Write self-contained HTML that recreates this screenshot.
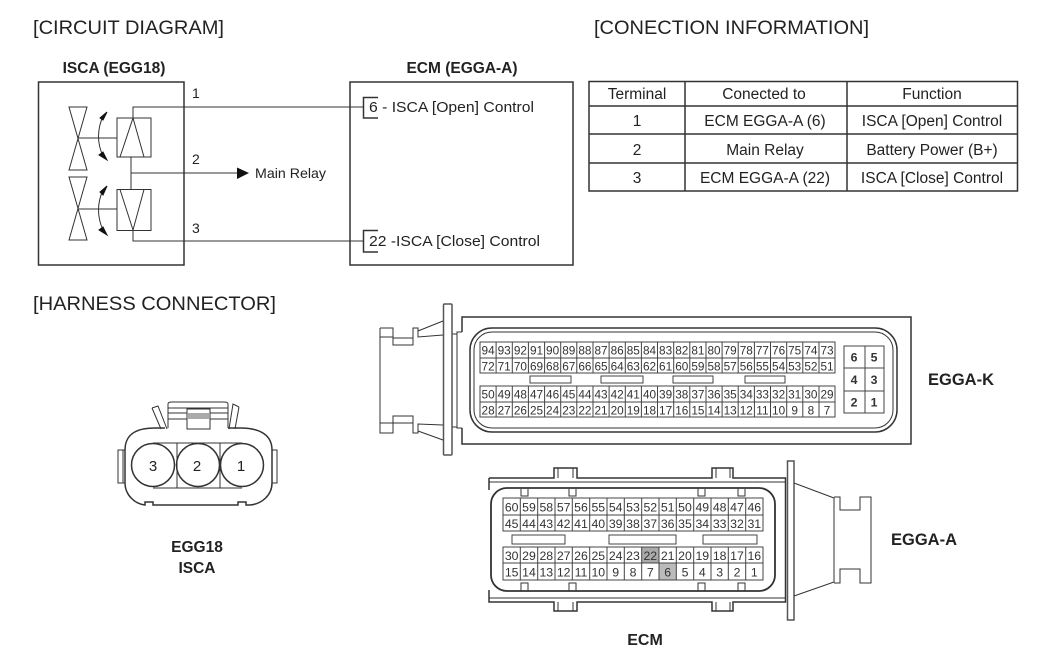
<!DOCTYPE html>
<html><head><meta charset="utf-8"><style>
html,body{margin:0;padding:0;background:#fff}
svg{display:block;filter:blur(.35px)}
text{font-family:"Liberation Sans",sans-serif;fill:#222}
.h{font-size:19px}
.b{font-size:15.5px;font-weight:bold;text-anchor:middle}
.t{font-size:15.5px;text-anchor:middle}
.c{font-size:15px}
.n{font-size:11.8px;text-anchor:middle;fill:#333}
.e{font-size:12.3px;text-anchor:middle;fill:#333}
.l{fill:none;stroke:#333;stroke-width:1}
.m{fill:none;stroke:#333;stroke-width:1.5}
.g{fill:none;stroke:#444;stroke-width:1}
</style></head><body>
<svg width="1050" height="660" viewBox="0 0 1050 660" xmlns="http://www.w3.org/2000/svg">
<rect width="1050" height="660" fill="#fff"/>
<text class="h" x="33" y="34" textLength="191" lengthAdjust="spacingAndGlyphs">[CIRCUIT DIAGRAM]</text>
<text class="h" x="594" y="34" textLength="275" lengthAdjust="spacingAndGlyphs">[CONECTION INFORMATION]</text>
<text class="h" x="33" y="310" textLength="243" lengthAdjust="spacingAndGlyphs">[HARNESS CONNECTOR]</text>

<!-- circuit -->
<text class="b" x="114" y="73">ISCA (EGG18)</text>
<text class="b" x="462" y="73">ECM (EGGA-A)</text>
<rect x="38.5" y="82" width="145.500" height="183" class="m"/>
<rect x="350" y="82" width="223" height="183" class="m"/>
<path class="l" d="M69 107H87L69 170H87ZM69 177H87L69 240H87Z"/>
<path class="l" d="M78 138H117M78 209H117"/>
<rect x="117" y="118" width="34" height="39" class="l"/>
<rect x="117" y="189.500" width="34" height="41" class="l"/>
<path class="l" d="M120 157L133 118L144 157M120 189.500L133 230L144 189.500"/>
<path class="l" d="M133 118V107H363M131 157V189.500M131 173H238M133 230V241H363"/>
<path d="M237 167.500L249 173L237 179Z" fill="#111"/>
<path class="l" d="M103 116Q94 137 103 156M103 190Q94 210 103 230"/>
<path d="M107 112L100 118L103 120ZM107 160L99 155L103 152ZM107 186L100 192L103 195ZM107 235L99 230L103 227Z" fill="#111" stroke="#111"/>
<text x="192" y="98" style="font-size:14px">1</text>
<text x="192" y="164" style="font-size:14px">2</text>
<text x="192" y="233" style="font-size:14px">3</text>
<text x="255" y="178" style="font-size:14px" textLength="71" lengthAdjust="spacingAndGlyphs">Main Relay</text>
<path class="m" d="M378 97.500H363.500V118H378M378 230.500H363.500V252H378"/>
<text class="c" x="369" y="112" textLength="165" lengthAdjust="spacingAndGlyphs">6 - ISCA [Open] Control</text>
<text class="c" x="369" y="246" textLength="171" lengthAdjust="spacingAndGlyphs">22 -ISCA [Close] Control</text>

<!-- table -->
<path class="m" d="M589 81.500H1017.500V191H589ZM589 106H1017.500M589 134H1017.500M589 163H1017.500M685 81.500V191M847 81.500V191"/>
<text class="t" x="637" y="99">Terminal</text>
<text class="t" x="764" y="99">Conected to</text>
<text class="t" x="932" y="99">Function</text>
<text class="t" x="637" y="126">1</text>
<text class="t" x="765" y="126">ECM EGGA-A (6)</text>
<text class="t" x="932" y="126">ISCA [Open] Control</text>
<text class="t" x="637" y="155">2</text>
<text class="t" x="765" y="155">Main Relay</text>
<text class="t" x="932" y="155">Battery Power (B+)</text>
<text class="t" x="637" y="183">3</text>
<text class="t" x="765" y="183">ECM EGGA-A (22)</text>
<text class="t" x="932" y="183">ISCA [Close] Control</text>

<!-- EGG18 connector -->
<path class="m" d="M165 428H155C135 428 125 435 125 450V483C125 495 135 504 145 505V502H153V505H238V502H246V505H250C262 504 272 495 272 483V450C272 435 260 428 240 428H228"/>
<path class="l" d="M125 450H118V483H125M123 450V483M272 450H277V483H272"/>
<path class="l" d="M152 408L158 406L167 429M152 408L161 429M239 407L233 404L229 429M239 407L235 429"/>
<path class="l" d="M168 428V404Q168 402 172 402H224Q228 402 228 404V428M168 408H228M168 413H187M210 413H228M168 419H187M210 419H228"/>
<rect x="187" y="409" width="23" height="20" fill="#fff" class="l"/>
<rect x="188" y="413" width="21" height="6" fill="#aaa"/>
<path class="l" d="M153 443H242M153 488H242M177 443V488M220 443V488"/>
<circle cx="153" cy="465" r="21.500" fill="#fff" class="m"/>
<circle cx="198" cy="465" r="21.500" fill="#fff" class="m"/>
<circle cx="242" cy="465" r="21.500" fill="#fff" class="m"/>
<text class="t" x="153" y="471" style="font-size:15px">3</text>
<text class="t" x="197" y="471" style="font-size:15px">2</text>
<text class="t" x="241" y="471" style="font-size:15px">1</text>
<text class="b" x="197" y="552">EGG18</text>
<text class="b" x="197" y="573">ISCA</text>

<!-- EGGA-K -->
<path class="m" d="M462 332V317H911V444H462V428"/>
<path class="l" d="M452 334H457V332H462M452 427H457V428H462M457 332V428"/>
<rect x="443.500" y="304" width="8.500" height="151" fill="#fff" stroke="#555" stroke-width="1.500" rx="1"/>
<path class="l" d="M380 328H393V345H413V328H418V337L443 335M418 331L443 321M393 338H413M380 328V433H393V416H413V433H418V424L443 425M418 431L443 440M380 337H393M380 423H393M393 423H413M418 337V331"/>
<rect x="470" y="328" width="427" height="104" rx="22" class="m"/>
<rect x="474" y="332" width="419" height="96" rx="18" class="l"/>
<g class="g">
<rect x="480" y="342" width="355" height="31"/><path d="M480 358H835"/>
<rect x="480" y="386" width="355" height="31"/><path d="M480 402H835"/>
<path d="M496.100 342V373M512.300 342V373M528.400 342V373M544.600 342V373M560.700 342V373M576.800 342V373M593 342V373M609.100 342V373M625.300 342V373M641.400 342V373M657.500 342V373M673.700 342V373M689.800 342V373M706 342V373M722.100 342V373M738.200 342V373M754.400 342V373M770.500 342V373M786.700 342V373M802.800 342V373M819 342V373"/>
<path d="M496.100 386V417M512.300 386V417M528.400 386V417M544.600 386V417M560.700 386V417M576.800 386V417M593 386V417M609.100 386V417M625.300 386V417M641.400 386V417M657.500 386V417M673.700 386V417M689.800 386V417M706 386V417M722.100 386V417M738.200 386V417M754.400 386V417M770.500 386V417M786.700 386V417M802.800 386V417M819 386V417"/>
<rect x="530" y="376" width="41" height="7"/><rect x="601" y="376" width="42" height="7"/><rect x="673" y="376" width="40" height="7"/><rect x="745" y="376" width="40" height="7"/>
</g>
<text class="n" y="354.500"><tspan x="488.100">94</tspan><tspan x="504.200">93</tspan><tspan x="520.400">92</tspan><tspan x="536.500">91</tspan><tspan x="552.600">90</tspan><tspan x="568.800">89</tspan><tspan x="584.900">88</tspan><tspan x="601">87</tspan><tspan x="617.200">86</tspan><tspan x="633.300">85</tspan><tspan x="649.500">84</tspan><tspan x="665.600">83</tspan><tspan x="681.800">82</tspan><tspan x="697.900">81</tspan><tspan x="714">80</tspan><tspan x="730.200">79</tspan><tspan x="746.300">78</tspan><tspan x="762.400">77</tspan><tspan x="778.600">76</tspan><tspan x="794.700">75</tspan><tspan x="810.900">74</tspan><tspan x="827">73</tspan></text>
<text class="n" y="370.500"><tspan x="488.100">72</tspan><tspan x="504.200">71</tspan><tspan x="520.400">70</tspan><tspan x="536.500">69</tspan><tspan x="552.600">68</tspan><tspan x="568.800">67</tspan><tspan x="584.900">66</tspan><tspan x="601">65</tspan><tspan x="617.200">64</tspan><tspan x="633.300">63</tspan><tspan x="649.500">62</tspan><tspan x="665.600">61</tspan><tspan x="681.800">60</tspan><tspan x="697.900">59</tspan><tspan x="714">58</tspan><tspan x="730.200">57</tspan><tspan x="746.300">56</tspan><tspan x="762.400">55</tspan><tspan x="778.600">54</tspan><tspan x="794.700">53</tspan><tspan x="810.900">52</tspan><tspan x="827">51</tspan></text>
<text class="n" y="398.500"><tspan x="488.100">50</tspan><tspan x="504.200">49</tspan><tspan x="520.400">48</tspan><tspan x="536.500">47</tspan><tspan x="552.600">46</tspan><tspan x="568.800">45</tspan><tspan x="584.900">44</tspan><tspan x="601">43</tspan><tspan x="617.200">42</tspan><tspan x="633.300">41</tspan><tspan x="649.500">40</tspan><tspan x="665.600">39</tspan><tspan x="681.800">38</tspan><tspan x="697.900">37</tspan><tspan x="714">36</tspan><tspan x="730.200">35</tspan><tspan x="746.300">34</tspan><tspan x="762.400">33</tspan><tspan x="778.600">32</tspan><tspan x="794.700">31</tspan><tspan x="810.900">30</tspan><tspan x="827">29</tspan></text>
<text class="n" y="414.500"><tspan x="488.100">28</tspan><tspan x="504.200">27</tspan><tspan x="520.400">26</tspan><tspan x="536.500">25</tspan><tspan x="552.600">24</tspan><tspan x="568.800">23</tspan><tspan x="584.900">22</tspan><tspan x="601">21</tspan><tspan x="617.200">20</tspan><tspan x="633.300">19</tspan><tspan x="649.500">18</tspan><tspan x="665.600">17</tspan><tspan x="681.800">16</tspan><tspan x="697.900">15</tspan><tspan x="714">14</tspan><tspan x="730.200">13</tspan><tspan x="746.300">12</tspan><tspan x="762.400">11</tspan><tspan x="778.600">10</tspan><tspan x="794.700">9</tspan><tspan x="810.900">8</tspan><tspan x="827">7</tspan></text>
<path class="g" d="M844 346H884V413H844ZM844 368H884M844 391H884M865 346V413"/>
<text class="e" y="361.500" style="font-weight:bold"><tspan x="854">6</tspan><tspan x="874">5</tspan></text>
<text class="e" y="384" style="font-weight:bold"><tspan x="854">4</tspan><tspan x="874">3</tspan></text>
<text class="e" y="406.500" style="font-weight:bold"><tspan x="854">2</tspan><tspan x="874">1</tspan></text>
<text x="928" y="385" style="font-size:16.500px;font-weight:bold">EGGA-K</text>

<!-- EGGA-A -->
<path class="m" d="M489 478H554V468H577V478H712V468H733V478H785.500V602H733V611H712V602H577V611H554V602H489V590M489 478V490"/>
<path class="l" d="M558 468V478M573 468V478M716 468V478M730 468V478M558 602V611M573 602V611M716 602V611M730 602V611M489 482H785M489 598H785"/>
<rect x="787.500" y="461" width="6.500" height="159" fill="#fff" stroke="#555" stroke-width="1.500"/>
<path class="l" d="M794 483L834 498V582L794 596M834 497H840V510H860V497H871V583H860V569H840V583H834"/>
<rect x="491" y="488" width="284" height="103" rx="16" fill="#fff" stroke="#333" stroke-width="1.800"/>
<path class="l" d="M521 489V496H528V489M569 489V496H576V489M698 489V496H705V489M738 489V496H745V489M521 591V583H528V591M569 591V583H576V591M698 591V583H705V591M738 591V583H745V591"/>
<rect x="641.700" y="547" width="17.300" height="16" fill="#aaa"/>
<rect x="659" y="563" width="17.300" height="17" fill="#bbb"/>
<g class="g">
<rect x="503" y="498" width="260" height="33"/><path d="M503 515H763"/>
<rect x="503" y="547" width="260" height="33"/><path d="M503 563H763"/>
<path d="M520.300 498V531M537.700 498V531M555 498V531M572.300 498V531M589.700 498V531M607 498V531M624.300 498V531M641.700 498V531M659 498V531M676.300 498V531M693.700 498V531M711 498V531M728.300 498V531M745.700 498V531"/>
<path d="M520.300 547V580M537.700 547V580M555 547V580M572.300 547V580M589.700 547V580M607 547V580M624.300 547V580M641.700 547V580M659 547V580M676.300 547V580M693.700 547V580M711 547V580M728.300 547V580M745.700 547V580"/>
<rect x="512" y="535" width="53" height="9"/><rect x="609" y="535" width="67" height="9"/><rect x="703" y="535" width="54" height="9"/>
</g>
<text class="e" y="511.500"><tspan x="511.700">60</tspan><tspan x="529">59</tspan><tspan x="546.300">58</tspan><tspan x="563.700">57</tspan><tspan x="581">56</tspan><tspan x="598.300">55</tspan><tspan x="615.700">54</tspan><tspan x="633">53</tspan><tspan x="650.300">52</tspan><tspan x="667.700">51</tspan><tspan x="685">50</tspan><tspan x="702.300">49</tspan><tspan x="719.700">48</tspan><tspan x="737">47</tspan><tspan x="754.300">46</tspan></text>
<text class="e" y="528"><tspan x="511.700">45</tspan><tspan x="529">44</tspan><tspan x="546.300">43</tspan><tspan x="563.700">42</tspan><tspan x="581">41</tspan><tspan x="598.300">40</tspan><tspan x="615.700">39</tspan><tspan x="633">38</tspan><tspan x="650.300">37</tspan><tspan x="667.700">36</tspan><tspan x="685">35</tspan><tspan x="702.300">34</tspan><tspan x="719.700">33</tspan><tspan x="737">32</tspan><tspan x="754.300">31</tspan></text>
<text class="e" y="560"><tspan x="511.700">30</tspan><tspan x="529">29</tspan><tspan x="546.300">28</tspan><tspan x="563.700">27</tspan><tspan x="581">26</tspan><tspan x="598.300">25</tspan><tspan x="615.700">24</tspan><tspan x="633">23</tspan><tspan x="650.300">22</tspan><tspan x="667.700">21</tspan><tspan x="685">20</tspan><tspan x="702.300">19</tspan><tspan x="719.700">18</tspan><tspan x="737">17</tspan><tspan x="754.300">16</tspan></text>
<text class="e" y="576.500"><tspan x="511.700">15</tspan><tspan x="529">14</tspan><tspan x="546.300">13</tspan><tspan x="563.700">12</tspan><tspan x="581">11</tspan><tspan x="598.300">10</tspan><tspan x="615.700">9</tspan><tspan x="633">8</tspan><tspan x="650.300">7</tspan><tspan x="667.700">6</tspan><tspan x="685">5</tspan><tspan x="702.300">4</tspan><tspan x="719.700">3</tspan><tspan x="737">2</tspan><tspan x="754.300">1</tspan></text>
<text x="891" y="545" style="font-size:16.500px;font-weight:bold">EGGA-A</text>
<text x="645" y="645" style="font-size:16px;font-weight:bold;text-anchor:middle">ECM</text>
</svg>
</body></html>
